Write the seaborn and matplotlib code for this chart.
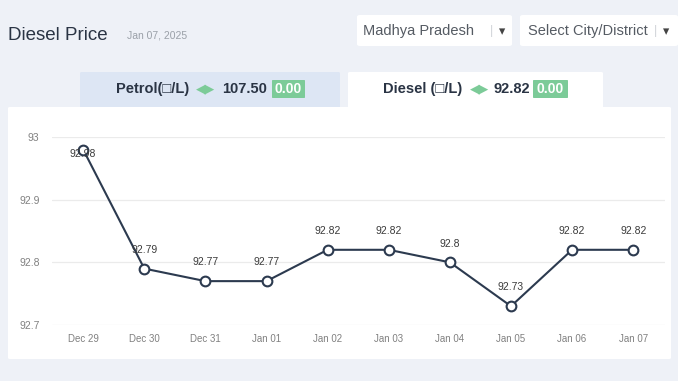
import numpy as np
import matplotlib.pyplot as plt
import pandas as pd
import seaborn as sns
from matplotlib.patches import FancyBboxPatch

# data
dates = ['Dec 29', 'Dec 30', 'Dec 31', 'Jan 01', 'Jan 02',
         'Jan 03', 'Jan 04', 'Jan 05', 'Jan 06', 'Jan 07']
prices = [92.98, 92.79, 92.77, 92.77, 92.82, 92.82, 92.8, 92.73, 92.82, 92.82]
price_labels = ['92.98', '92.79', '92.77', '92.77', '92.82',
                '92.82', '92.8', '92.73', '92.82', '92.82']
y_ticks = [92.7, 92.8, 92.9, 93.0]
y_ticklabels = ['92.7', '92.8', '92.9', '93']

petrol_price = '107.50'
diesel_price = '92.82'
petrol_change = '0.00'
diesel_change = '0.00'
state = 'Madhya Pradesh'
city = 'Select City/District'
title = 'Diesel Price'
date_str = 'Jan 07, 2025'

sns.set_theme(style='white')
plt.rcParams['font.family'] = ['Liberation Sans', 'DejaVu Sans']

W, H = 678, 381
BG = '#eef1f7'
LINE = '#2c3a4f'
GREEN = '#7ccb98'

fig = plt.figure(figsize=(W / 100, H / 100), dpi=100, facecolor=BG)


def fx(x):
    return x / W


def fy(y):
    return 1 - y / H


def box(x0, y0, x1, y1, color, r=3):
    p = FancyBboxPatch((fx(x0), fy(y1)), fx(x1) - fx(x0), fy(y0) - fy(y1),
                       boxstyle=f'round,pad=0,rounding_size={r / W}',
                       transform=fig.transFigure, facecolor=color,
                       edgecolor='none', zorder=-1)
    fig.patches.append(p)


# header
fig.text(fx(8), fy(35), title, fontsize=13.5, color='#2a3444', va='center')
fig.text(fx(127), fy(35), date_str, fontsize=7.5, color='#9aa0a8', va='center')

# dropdowns
box(357, 15, 512, 46, 'white')
fig.text(fx(363), fy(31), state, fontsize=10.5, color='#555b63', va='center')
fig.text(fx(490), fy(31), '|', fontsize=9, color='#d0d3d8', va='center')
fig.text(fx(499), fy(32), '\u25be', fontsize=9, color='#444', va='center')
box(520, 15, 678, 46, 'white')
fig.text(fx(528), fy(31), city, fontsize=10.5, color='#555b63', va='center')
fig.text(fx(654), fy(31), '|', fontsize=9, color='#d0d3d8', va='center')
fig.text(fx(663), fy(32), '\u25be', fontsize=9, color='#444', va='center')

# tabs
box(80, 72, 340, 108, '#dde6f4', r=2)
box(348, 72, 603, 108, 'white', r=2)
tab_y = fy(89)
fig.text(fx(116), tab_y, 'Petrol(\u25a1/L)', fontsize=10.5, fontweight='bold',
         color='#2a3444', va='center')
fig.text(fx(196), tab_y, '\u25c0\u25b6', fontsize=9, color=GREEN, va='center')
fig.text(fx(222), tab_y, petrol_price, fontsize=10.5, fontweight='bold',
         color='#2a3444', va='center')
box(272, 80, 305, 98, GREEN, r=1)
fig.text(fx(288.5), tab_y, petrol_change, fontsize=10, fontweight='bold',
         color='white', va='center', ha='center')

fig.text(fx(383), tab_y, 'Diesel (\u25a1/L)', fontsize=10.5, fontweight='bold',
         color='#2a3444', va='center')
fig.text(fx(470), tab_y, '\u25c0\u25b6', fontsize=9, color=GREEN, va='center')
fig.text(fx(493), tab_y, diesel_price, fontsize=10.5, fontweight='bold',
         color='#2a3444', va='center')
box(533, 80, 568, 98, GREEN, r=1)
fig.text(fx(550.5), tab_y, diesel_change, fontsize=10, fontweight='bold',
         color='white', va='center', ha='center')

# chart card
box(8, 107, 671, 359, 'white', r=2)

ax = fig.add_axes([fx(52), fy(325), fx(665) - fx(52), fy(137) - fy(325)])
ax.set_facecolor('none')
ax.set_zorder(2)

df = pd.DataFrame({'date': dates, 'price': prices})
df['pos'] = np.arange(len(df))
sns.lineplot(data=df, x='pos', y='price', ax=ax, color=LINE, linewidth=1.5,
             marker='o', markersize=7, markerfacecolor='white',
             markeredgecolor=LINE, markeredgewidth=1.5, zorder=3)

for i, (v, lab) in enumerate(zip(prices, price_labels)):
    dy = 13.5 if v < 92.95 else -3
    ax.annotate(lab, (i, v), xytext=(0, dy), textcoords='offset points',
                ha='center', va='center', fontsize=7.5, color='#3a3a3a',
                zorder=4)

ax.set_xlim(-0.51, 9.52)
ax.set_ylim(92.7, 93.0)
ax.set_yticks(y_ticks)
ax.set_yticklabels(y_ticklabels)
ax.set_xticks(df['pos'])
ax.set_xticklabels(dates)
ax.tick_params(axis='y', length=0, pad=9, labelsize=7.5, labelcolor='#808080')
ax.tick_params(axis='x', length=0, pad=6.5, labelsize=7, labelcolor='#808080')
ax.grid(axis='y', color='#ebebeb', linewidth=0.9)
ax.set_axisbelow(True)
ax.set_xlabel('')
ax.set_ylabel('')
sns.despine(ax=ax, left=True, bottom=True)

fig.savefig('out.png', dpi=100, facecolor=BG)
